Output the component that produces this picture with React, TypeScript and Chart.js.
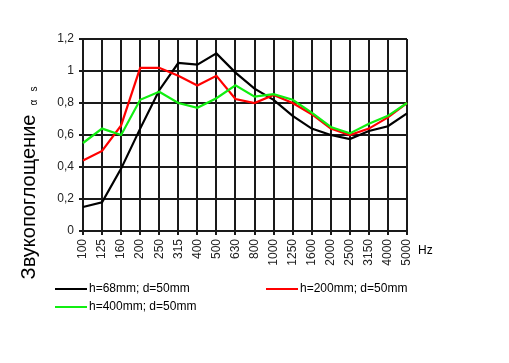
import React, { useEffect, useRef } from 'react';
import { Chart, registerables } from 'chart.js';

Chart.register(...registerables);

const categories = ['100', '125', '160', '200', '250', '315', '400', '500', '630', '800', '1000', '1250', '1600', '2000', '2500', '3150', '4000', '5000'];
const seriesLabels = ['h=68mm; d=50mm', 'h=200mm; d=50mm', 'h=400mm; d=50mm'];
const seriesColors = ['#000000', '#ff0000', '#11ee11'];
const h68 = [0.15, 0.18, 0.39, 0.64, 0.88, 1.05, 1.04, 1.11, 0.99, 0.89, 0.82, 0.72, 0.64, 0.6, 0.575, 0.625, 0.655, 0.735];
const h200 = [0.44, 0.5, 0.66, 1.02, 1.02, 0.97, 0.91, 0.97, 0.825, 0.8, 0.85, 0.8, 0.73, 0.64, 0.6, 0.64, 0.71, 0.8];
const h400 = [0.55, 0.64, 0.6, 0.82, 0.87, 0.8, 0.77, 0.83, 0.91, 0.84, 0.855, 0.82, 0.74, 0.65, 0.61, 0.67, 0.72, 0.8];
const yTitle = 'Звукопоглощение';
const xUnit = 'Hz';

const FONT = "'Liberation Sans', Arial, sans-serif";
const GRID = '#1a1a1a';

const textPlugin = {
  id: 'texts',
  afterDraw(chart: any) {
    const ctx = chart.ctx;
    ctx.save();
    // y-axis title, rotated
    ctx.fillStyle = '#000';
    ctx.font = `20px ${FONT}`;
    ctx.translate(35, 197);
    ctx.rotate(-Math.PI / 2);
    ctx.textAlign = 'center';
    ctx.textBaseline = 'alphabetic';
    ctx.fillText(yTitle, 0, 0);
    const w = ctx.measureText(yTitle).width;
    ctx.font = `10px ${FONT}`;
    ctx.textAlign = 'left';
    ctx.fillText('α', w / 2 + 9, 2);
    ctx.fillText('s', w / 2 + 23, 2);
    ctx.restore();

    // Hz unit
    ctx.save();
    ctx.fillStyle = '#000';
    ctx.font = `12px ${FONT}`;
    ctx.textAlign = 'left';
    ctx.textBaseline = 'middle';
    ctx.fillText(xUnit, 418, 251);
    ctx.restore();

    // legend
    const items = [
      { x: 55, y: 289 },
      { x: 266, y: 289 },
      { x: 55, y: 307 },
    ];
    ctx.save();
    chart.data.datasets.forEach((ds: any, i: number) => {
      const p = items[i];
      ctx.strokeStyle = ds.borderColor;
      ctx.lineWidth = 2;
      ctx.beginPath();
      ctx.moveTo(p.x, p.y);
      ctx.lineTo(p.x + 32, p.y);
      ctx.stroke();
      ctx.fillStyle = '#000';
      ctx.font = `12px ${FONT}`;
      ctx.textAlign = 'left';
      ctx.textBaseline = 'middle';
      ctx.fillText(ds.label, p.x + 34, p.y);
    });
    ctx.restore();
  },
};

export default function App() {
  const ref = useRef<HTMLCanvasElement>(null);
  useEffect(() => {
    if (!ref.current) return;
    const chart = new Chart(ref.current, {
      type: 'line',
      data: {
        labels: categories,
        datasets: [
          { label: seriesLabels[0], data: h68, borderColor: seriesColors[0], backgroundColor: seriesColors[0], borderWidth: 2.2, pointRadius: 0, tension: 0, order: 2 },
          { label: seriesLabels[1], data: h200, borderColor: seriesColors[1], backgroundColor: seriesColors[1], borderWidth: 2.2, pointRadius: 0, tension: 0, order: 1 },
          { label: seriesLabels[2], data: h400, borderColor: seriesColors[2], backgroundColor: seriesColors[2], borderWidth: 2.2, pointRadius: 0, tension: 0, order: 0 },
        ],
      },
      options: {
        animation: false,
        responsive: false,
        devicePixelRatio: 1,
        layout: { padding: { top: 39, right: 102, bottom: 0, left: 0 } },
        plugins: { legend: { display: false }, tooltip: { enabled: false }, title: { display: false } },
        scales: {
          x: {
            type: 'category',
            offset: false,
            grid: { color: GRID, lineWidth: 2, tickLength: 4, offset: false, tickColor: GRID },
            border: { color: GRID, width: 2 },
            ticks: { autoSkip: false, minRotation: 90, maxRotation: 90, padding: 4, color: '#222', font: { family: FONT, size: 12 } },
            afterFit: (s: any) => { s.height = 363 - 231; },
          },
          y: {
            min: 0,
            max: 1.2,
            grid: { color: GRID, lineWidth: 2, tickLength: 4, tickColor: GRID },
            border: { color: GRID, width: 2 },
            ticks: {
              stepSize: 0.2,
              padding: 5,
              color: '#222',
              font: { family: FONT, size: 12 },
              callback: (v: any) => String(Number(Number(v).toFixed(1))).replace('.', ','),
            },
            afterFit: (s: any) => { s.width = 83; },
          },
        },
      },
      plugins: [textPlugin],
    });
    return () => chart.destroy();
  }, []);
  return (
    <div style={{ position: 'fixed', left: 0, top: 0, width: 509, height: 363, background: '#fff' }}>
      <canvas ref={ref} width={509} height={363} style={{ width: 509, height: 363 }} />
    </div>
  );
}
